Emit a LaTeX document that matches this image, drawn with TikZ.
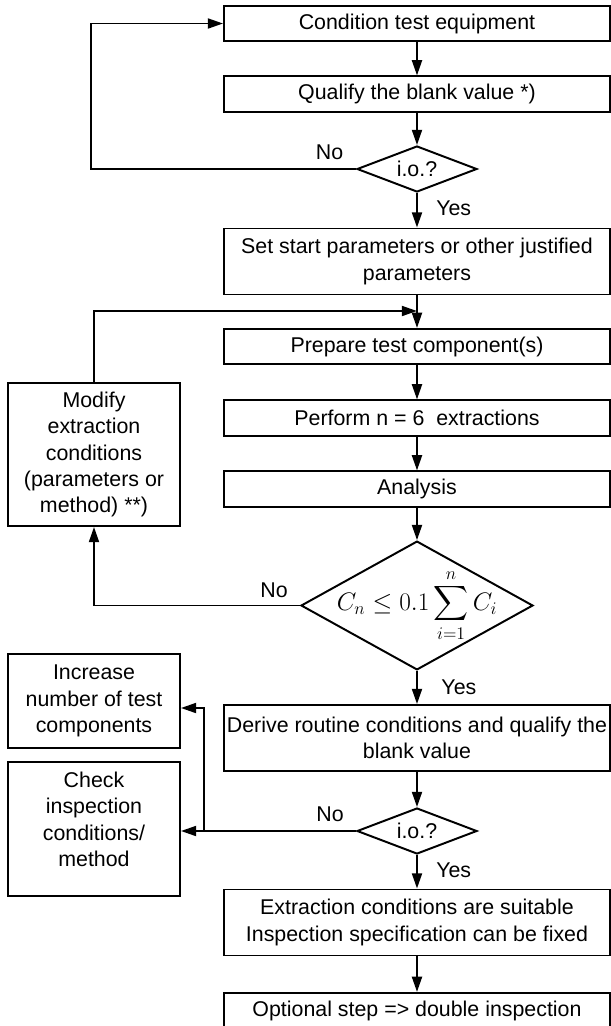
\documentclass[tikz,border=0pt]{standalone}
\usepackage{fix-cm}
\usepackage{amsmath}
\usepackage{fontspec}
\setmainfont{Liberation Sans}
\usetikzlibrary{shapes.geometric,arrows.meta}

\begin{document}
\begin{tikzpicture}[node distance = 2cm,
        font = \fontsize{15.2pt}{18.8pt}\selectfont,
        box/.style = {draw, line width = 1.4pt, align = center, inner sep = 0pt,
            minimum width = 9.65cm, minimum height = 0.88cm},
        sidebox/.style = {draw, line width = 1.4pt, align = center,
            inner sep = 0pt, minimum width = 4.3cm},
        decision/.style = {draw, diamond, line width = 1.4pt, inner sep = 0pt,
            shape aspect = 2.5, minimum width = 3cm, minimum height = 1.15cm},
        line/.style = {line width = 1.4pt,
            -{Triangle[length = 0.38cm, width = 0.25cm]}}]
        \useasboundingbox (-10.425, 0.5875) rectangle (4.85, -25.0625);

        \node [box] (box1) {Condition test equipment};
        \node [box, below of = box1, node distance = 1.7625cm] (box2)
        {Qualify the blank value *)};
        \node [decision, below of = box2, node distance = 1.875cm] (d1) {i.o.?};
        \node [box, below of = d1, node distance = 2.3125cm,
        minimum height = 1.65cm] (box3)
        {Set start parameters or other justified\\parameters};
        \node [box, below of = box3, node distance = 2.125cm] (box4)
        {Prepare test component(s)};
        \node [box, below of = box4, node distance = 1.7875cm] (box5)
        {Perform n = 6\ \ extractions};
        \node [box, below of = box5, node distance = 1.775cm] (box6) {Analysis};
        \node [decision, below of = box6, node distance = 2.9125cm,
        minimum width = 5.8cm, minimum height = 3.22cm, shape aspect = 1.8] (d2)
        {\makebox[0pt]{\fontsize{18pt}{20pt}\selectfont
        $\displaystyle C_n \le 0.1 \sum_{i=1}^{n} C_i$}};
        \node [box, below of = d2, node distance = 3.3125cm,
        minimum height = 1.65cm] (box7)
        {Derive routine conditions and qualify the\\blank value};
        \node [decision, below of = box7, node distance = 2.325cm] (d3) {i.o.?};
        \node [box, below of = d3, node distance = 2.2875cm,
        minimum height = 1.65cm] (box8)
        {Extraction conditions are suitable\\Inspection specification can be fixed};
        \node [box, below of = box8, node distance = 2.2cm] (box9)
        {Optional step => double inspection};

        \node [sidebox, left of = box5, node distance = 8.075cm,
        yshift = -0.9125cm, minimum height = 3.575cm] (modify)
        {Modify\\extraction\\conditions\\(parameters or\\method) **)};
        \node [sidebox, left of = box7, node distance = 8.075cm,
        yshift = 0.925cm, minimum height = 2.35cm] (increase)
        {Increase\\number of test\\components};
        \node [sidebox, left of = d3, node distance = 8.075cm,
        yshift = 0.05cm, minimum height = 3.35cm] (check)
        {Check\\inspection\\conditions/\\method\\[-5pt]~};

        \coordinate [left of = box1, node distance = 8.15cm] (c1);
        \coordinate [below of = box3, node distance = 1.2375cm] (c3);
        \coordinate [left of = d3, node distance = 5.325cm] (c4);
        \coordinate [above of = c4, node distance = 3.075cm] (c5);

        \draw [line] (box1) -- (box2);
        \draw [line] (box2) -- (d1);
        \draw [line] (d1) -- (box3) node [pos = 0.43, right, xshift = 0.34cm] {Yes};
        \draw [line] (box3) -- (box4);
        \draw [line] (box4) -- (box5);
        \draw [line] (box5) -- (box6);
        \draw [line] (box6) -- (d2);
        \draw [line] (d2) -- (box7) node [pos = 0.48, right, xshift = 0.47cm] {Yes};
        \draw [line] (box7) -- (d3);
        \draw [line] (d3) -- (box8) node [pos = 0.45, right, xshift = 0.34cm] {Yes};
        \draw [line] (box8) -- (box9);

        \draw [line] (d1.west) -- (d1.west -| c1) node [pos = 0.1, above,
        yshift = 0.085cm] {No} -- (c1) -- (box1.west);
        \draw [line] (d2.west) -- (d2.west -| modify.south) node [pos = 0.126,
        above, yshift = 0.065cm] {No} -- (modify.south);
        \draw [line] (modify.north) -- (modify.north |- c3) -- (c3);
        \draw [line] (d3.west) -- (d3.west -| check.east) node [pos = 0.148,
        above, yshift = 0.085cm] {No};
        \draw [line] (c4) -- (c5) -- (c5 -| increase.east);
\end{tikzpicture}
\end{document}
